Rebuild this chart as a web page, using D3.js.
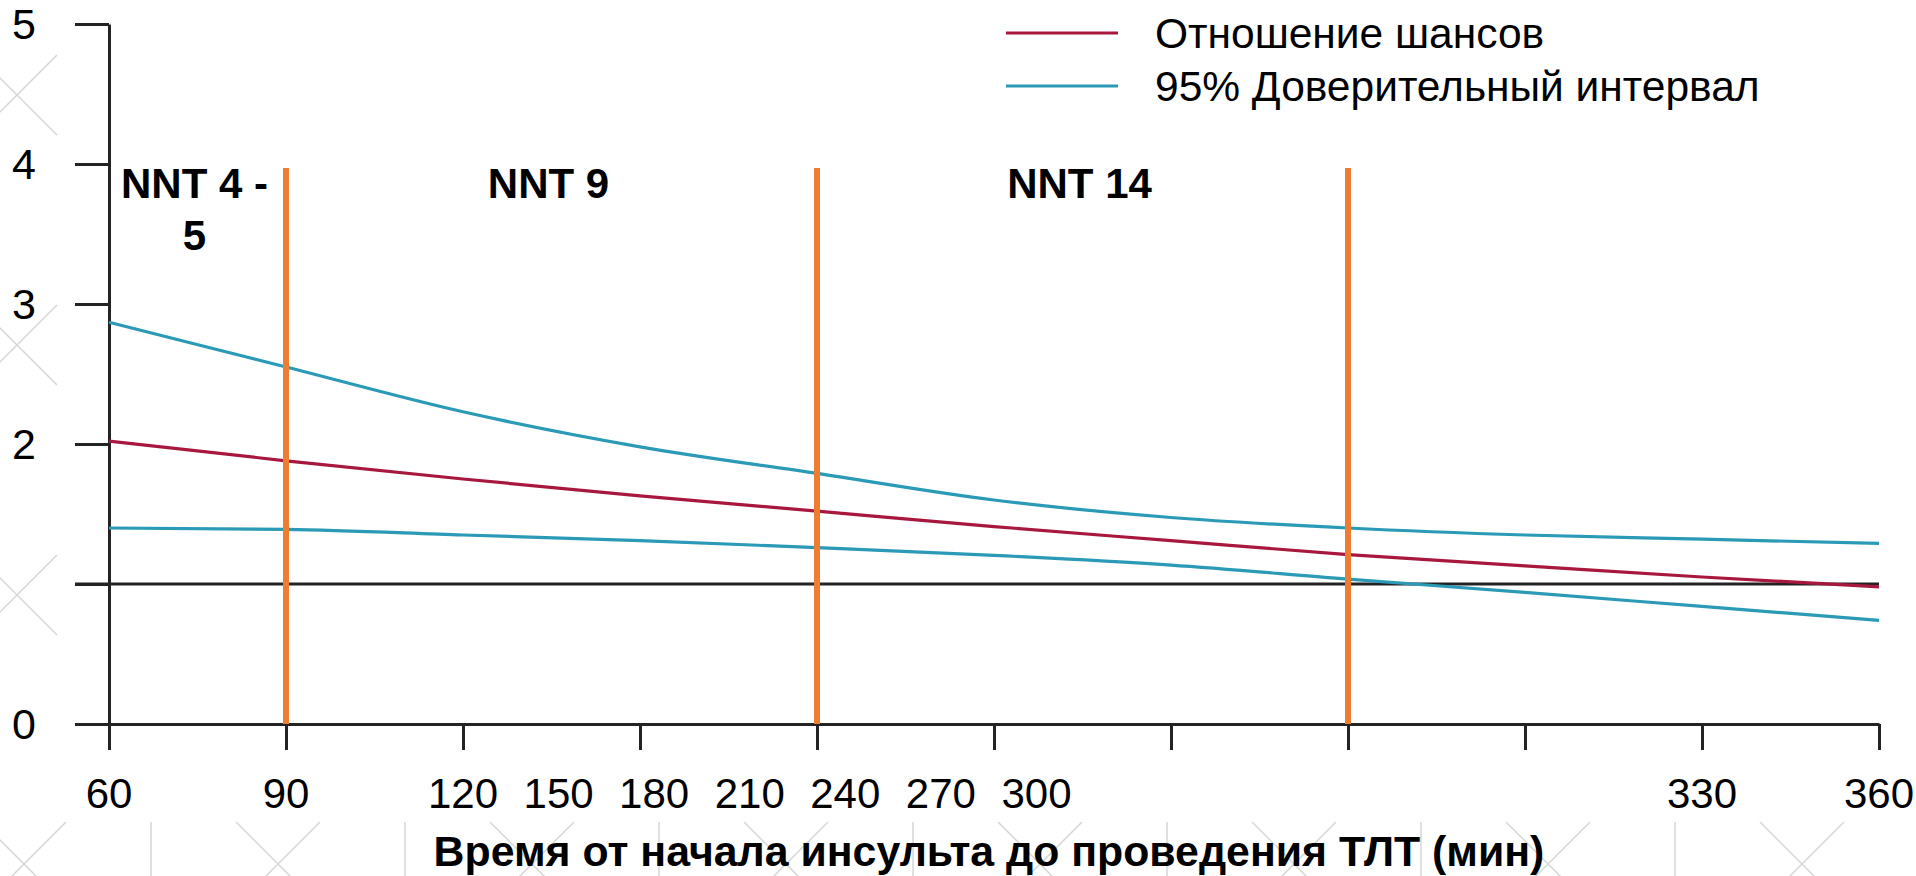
<!DOCTYPE html>
<html>
<head>
<meta charset="utf-8">
<script src="https://cdn.jsdelivr.net/npm/d3@7"></script>
<style>
html, body { margin: 0; padding: 0; background: #fff; overflow: hidden; }
svg { display: block; }
text { font-family: "Liberation Sans", Arial, sans-serif; }
</style>
</head>
<body>
<svg id="chart" width="1916" height="876"></svg>
<script>
// ---------------- data ----------------
const times      = [60, 90, 120, 150, 180, 210, 240, 270, 300, 330, 360];
const oddsRatio  = [2.02, 1.88, 1.75, 1.63, 1.52, 1.41, 1.31, 1.21, 1.13, 1.05, 0.98];
const ciUpper    = [2.87, 2.55, 2.23, 1.98, 1.79, 1.60, 1.475, 1.40, 1.35, 1.32, 1.29];
const ciLower    = [1.40, 1.39, 1.35, 1.31, 1.26, 1.205, 1.135, 1.035, 0.94, 0.84, 0.74];

const xTickValues = [60, 90, 120, 150, 180, 210, 240, 270, 300, 330, 360];
const xTickLabels = ["60", "90", "120", "150", "180", "210", "240", "270", "300", "330", "360"];
const yTickValues = [0, 1, 2, 3, 4, 5];
const yTickLabels = ["0", "", "2", "3", "4", "5"];

const dividerTimes  = [90, 180, 270];
const nntBounds     = [60, 90, 180, 270];
const nntLabels     = ["NNT 4 - 5", "NNT 9", "NNT 14"];
const referenceOR   = 1;

const legendLabels = ["Отношение шансов", "95% Доверительный интервал"];
const xTitle = "Время от начала инсульта до проведения ТЛТ (мин)";

// ---------------- setup ----------------
const W = 1916, H = 876;
const svg = d3.select("#chart");
svg.append("rect").attr("width", W).attr("height", H).attr("fill", "#fff");

const x = d3.scaleLinear().domain([60, 360]).range([109, 1879]);
const y = d3.scaleLinear().domain([0, 5]).range([724, 24]);
// in the original figure the labels 120..300 are squeezed together
const squeeze = 0.54;
const xLabel = d3.scaleLinear()
  .domain([60, 90, 120, 300, 330, 360])
  .range([x(60), x(90), x(120), x(120) + (x(300) - x(120)) * squeeze, x(330), x(360)]);

const axisColor = "#232323";
const orange = "#ED7D31";
const red = "#A8183E";
const blue = "#2A9AB6";

// ---------------- faint background watermark ----------------
const wm = svg.append("g").attr("stroke", "#d6d6d6").attr("stroke-width", 1.5).attr("fill", "none");
const clipL = svg.append("clipPath").attr("id", "clipLeft");
clipL.append("rect").attr("x", 0).attr("y", 0).attr("width", 75).attr("height", 800);
const clipB = svg.append("clipPath").attr("id", "clipBottom");
clipB.append("rect").attr("x", 0).attr("y", 822).attr("width", W).attr("height", 60);
const wmLeft = wm.append("g").attr("clip-path", "url(#clipLeft)");
d3.range(3).forEach(k => {
  const cx = 17, cy = 95 + 250 * k, r = 40;
  wmLeft.append("path").attr("d", `M${cx - r},${cy - r}L${cx + r},${cy + r}M${cx + r},${cy - r}L${cx - r},${cy + r}`);
});
const wmBottom = wm.append("g").attr("clip-path", "url(#clipBottom)");
d3.range(8).forEach(k => {
  const cx = 24 + 254 * k, cy = 864, r = 42;
  wmBottom.append("path").attr("d", `M${cx - r},${cy - r}L${cx + r},${cy + r}M${cx + r},${cy - r}L${cx - r},${cy + r}`);
  wmBottom.append("path").attr("d", `M${cx + 127},822V876`);
});

// ---------------- axes ----------------
const yAxis = d3.axisLeft(y).tickValues(yTickValues).tickSize(34).tickSizeOuter(0).tickFormat("");
const gy = svg.append("g").attr("transform", `translate(${x(60)},0)`).call(yAxis);
gy.selectAll("path, line").attr("stroke", axisColor).attr("stroke-width", 3);

const xAxis = d3.axisBottom(x).tickValues(xTickValues).tickSize(26).tickSizeOuter(0).tickFormat("");
const gx = svg.append("g").attr("transform", `translate(0,${y(0)})`).call(xAxis);
gx.selectAll("path, line").attr("stroke", axisColor).attr("stroke-width", 3);

// y tick labels
svg.append("g").selectAll("text").data(yTickValues).join("text")
  .attr("x", 24).attr("y", d => y(d)).attr("dy", "0.36em")
  .attr("text-anchor", "middle").attr("font-size", 43).attr("fill", "#000")
  .text((d, i) => yTickLabels[i]);

// x tick labels
svg.append("g").selectAll("text").data(xTickValues).join("text")
  .attr("x", d => xLabel(d)).attr("y", 808)
  .attr("text-anchor", "middle").attr("font-size", 42).attr("fill", "#000")
  .text((d, i) => xTickLabels[i]);

// x title
svg.append("text").attr("x", 989).attr("y", 866).attr("text-anchor", "middle")
  .attr("font-size", 42.8).attr("font-weight", "bold").attr("fill", "#000").text(xTitle);

// ---------------- reference line at OR = 1 ----------------
svg.append("line")
  .attr("x1", 75).attr("x2", x(360))
  .attr("y1", y(referenceOR)).attr("y2", y(referenceOR))
  .attr("stroke", axisColor).attr("stroke-width", 3);

// ---------------- series ----------------
const line = d3.line().x(d => x(d[0])).y(d => y(d[1])).curve(d3.curveMonotoneX);
const series = [
  { vals: ciLower, color: blue },
  { vals: ciUpper, color: blue },
  { vals: oddsRatio, color: red }
];
svg.append("g").selectAll("path").data(series).join("path")
  .attr("d", s => line(times.map((t, i) => [t, s.vals[i]])))
  .attr("fill", "none").attr("stroke", s => s.color).attr("stroke-width", 3.2)
  .attr("stroke-linejoin", "round");

// ---------------- orange dividers ----------------
svg.append("g").selectAll("line").data(dividerTimes).join("line")
  .attr("x1", d => x(d)).attr("x2", d => x(d))
  .attr("y1", 168).attr("y2", y(0))
  .attr("stroke", orange).attr("stroke-width", 6);

// ---------------- NNT labels ----------------
const nntG = svg.append("g");
nntLabels.forEach((lab, i) => {
  const cx = (x(nntBounds[i]) + x(nntBounds[i + 1])) / 2 - 3;
  const maxW = x(nntBounds[i + 1]) - x(nntBounds[i]) - 10;
  const t = nntG.append("text").attr("x", cx).attr("y", 198)
    .attr("text-anchor", "middle").attr("font-size", 42).attr("font-weight", "bold").attr("fill", "#000");
  const words = lab.split(" ");
  let lineWords = [];
  let tspan = t.append("tspan").attr("x", cx).attr("dy", 0);
  words.forEach(w => {
    lineWords.push(w);
    tspan.text(lineWords.join(" "));
    if (tspan.node().getComputedTextLength() > maxW && lineWords.length > 1) {
      lineWords.pop();
      tspan.text(lineWords.join(" "));
      lineWords = [w];
      tspan = t.append("tspan").attr("x", cx).attr("dy", 52).text(w);
    }
  });
});

// ---------------- legend ----------------
const legend = svg.append("g");
const legendColors = [red, blue];
legendLabels.forEach((lab, i) => {
  const ly = 33 + i * 53;
  legend.append("line").attr("x1", 1006).attr("x2", 1118).attr("y1", ly).attr("y2", ly)
    .attr("stroke", legendColors[i]).attr("stroke-width", 3.2);
  legend.append("text").attr("x", 1155).attr("y", ly).attr("dy", "0.36em")
    .attr("font-size", 42.5).attr("fill", "#000").text(lab);
});
</script>
</body>
</html>
